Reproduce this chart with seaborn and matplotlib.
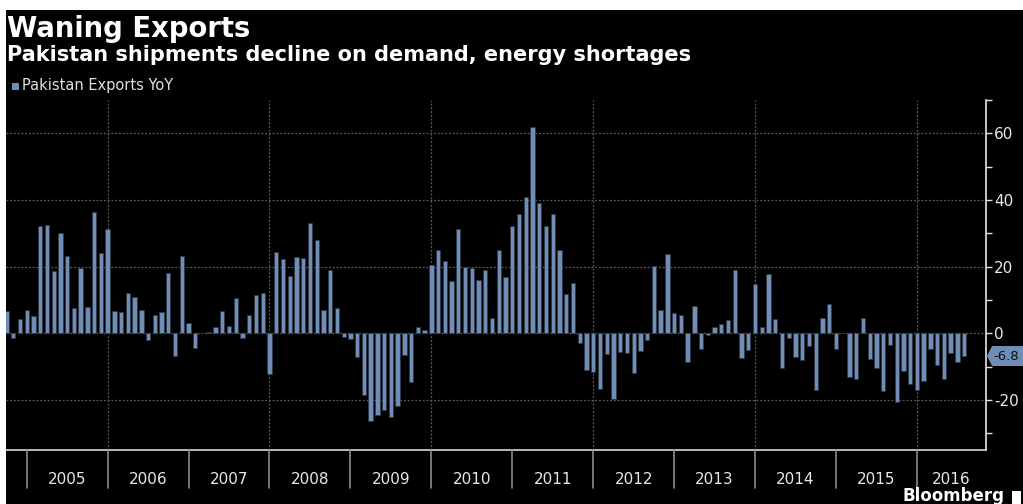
import numpy as np
import pandas as pd
import matplotlib
matplotlib.use("Agg")
import matplotlib.pyplot as plt
import matplotlib.transforms as mtransforms
from matplotlib.patches import Rectangle, Polygon
import seaborn as sns

# ---------------- data ----------------
months = pd.date_range("2004-10-01", periods=143, freq="MS").strftime("%Y-%m").tolist()
exports_yoy = [
    6.6, -1.3, 4.2, 7.1, 5.3, 32.1, 32.5, 18.7, 30.0, 23.3, 7.6, 19.6,
    8.0, 36.5, 24.0, 31.2, 6.6, 6.5, 12.1, 11.0, 7.1, -1.9, 5.6, 6.5,
    18.0, -6.8, 23.3, 3.1, -4.4, 0.2, 0.3, 1.8, 6.6, 2.2, 10.6, -1.5,
    5.5, 11.6, 12.2, -12.1, 24.4, 22.2, 17.1, 22.9, 22.7, 33.0, 28.1, 7.1,
    19.1, 7.7, -1.1, -1.8, -7.0, -18.5, -26.4, -24.6, -22.9, -25.0, -21.7, -6.6,
    -14.5, 2.0, 0.9, 20.5, 24.9, 21.6, 15.6, 31.4, 19.8, 19.5, 15.9, 18.9,
    4.7, 24.9, 16.9, 32.3, 35.7, 40.9, 62.0, 39.0, 32.3, 35.8, 24.9, 11.9,
    15.0, -3.0, -11.1, -11.5, -16.8, -6.2, -19.7, -5.7, -6.0, -11.8, -5.2, -2.0,
    20.1, 7.1, 23.7, 6.2, 5.5, -8.6, 8.2, -4.6, -0.6, 1.8, 2.7, 4.0,
    18.9, -7.4, -5.1, 14.7, 1.8, 17.8, 4.4, -10.5, -1.3, -7.1, -8.1, -3.9,
    -16.9, 4.6, 8.9, -4.6, 0.2, -13.2, -13.8, 4.6, -7.8, -10.5, -17.3, -3.6,
    -20.5, -11.4, -15.1, -17.1, -14.3, -4.6, -9.5, -13.8, -6.0, -8.7, -6.8,
]
years = ["2005", "2006", "2007", "2008", "2009", "2010",
         "2011", "2012", "2013", "2014", "2015", "2016"]
yticks_major = [-20, 0, 20, 40, 60]
yticks_minor = [-30, -10, 10, 30, 50, 70]
last_label = "-6.8"

title = "Waning Exports"
subtitle = "Pakistan shipments decline on demand, energy shortages"
series_name = "Pakistan Exports YoY"

BAR = "#6f8db5"
GRID = "#5c5c5c"

# ---------------- figure ----------------
sns.set_style("dark")
plt.rcParams["font.family"] = ["DejaVu Sans"]

W, H = 1023, 504
fig = plt.figure(figsize=(W / 100, H / 100), dpi=100, facecolor="white")
fig.add_artist(Rectangle((6 / W, 0), 1, (H - 10) / H, transform=fig.transFigure,
                         facecolor="black", edgecolor="none", zorder=0))

ax = fig.add_axes([6 / W, (H - 450) / H, 979.7 / W, 350 / H])
ax.set_facecolor("black")

df = pd.DataFrame({"month": months, "yoy": exports_yoy})
sns.barplot(data=df, x="month", y="yoy", color=BAR, saturation=1, width=0.64,
            edgecolor="#2b3748", linewidth=0.5, errorbar=None, ax=ax, zorder=3)

ax.set_xlim(-0.07, 145.2)
ax.set_ylim(-35, 70)
ax.set_xlabel("")
ax.set_ylabel("")

# y axis on the right
ax.yaxis.tick_right()
ax.set_yticks(yticks_major)
ax.set_yticklabels([str(v) for v in yticks_major])
ax.set_yticks(yticks_minor, minor=True)
ax.tick_params(axis="y", which="both", direction="out", length=4, width=1,
               color="#e0e0e0", labelcolor="#e8e8e8", labelsize=11, pad=2,
               right=True, left=False)
ax.set_xticks([])

for s in ["top", "left"]:
    ax.spines[s].set_visible(False)
ax.spines["right"].set_color("#e6e6e6")
ax.spines["right"].set_linewidth(1.2)
ax.spines["bottom"].set_color("#d8d8d8")
ax.spines["bottom"].set_linewidth(1.2)

# horizontal grid
for v in yticks_major:
    ax.axhline(v, color=GRID, lw=0.9, ls=(0, (1.5, 1.5)), zorder=1)

# year boundaries, labels
starts = [months.index(f"{y}-01") for y in years]
xmax = ax.get_xlim()[1]
trans = mtransforms.blended_transform_factory(ax.transData, ax.transAxes)
for y, b in zip(years, starts):
    if int(y) % 2 == 0:
        ax.axvline(b, color=GRID, lw=0.9, ls=(0, (1.5, 1.5)), zorder=1)
    ax.plot([b, b], [0, -38 / 350], transform=trans, color="#8c8c8c", lw=1.2,
            clip_on=False, zorder=5)
    end = min(b + 12, xmax)
    ax.text((b + end) / 2, -29 / 350, y, transform=trans, ha="center", va="center",
            color="#e8e8e8", fontsize=11)

# last value tag
tag_trans = mtransforms.blended_transform_factory(fig.transFigure, ax.transData)
v = exports_yoy[-1]
tip = 987 / W
body = 992 / W
poly = Polygon([(tip, v), (body, v + 3.0), (1.0, v + 3.0), (1.0, v - 3.0), (body, v - 3.0)],
               closed=True, transform=tag_trans, facecolor=BAR, edgecolor="none",
               clip_on=False, zorder=6)
fig.add_artist(poly)
tag_txt = fig.text(993 / W, 0, last_label, color="#111111", fontsize=9.5,
                   va="center", ha="left", zorder=7)
tag_txt.set_transform(tag_trans)
tag_txt.set_position((993 / W, v))

# titles
fig.text(7 / W, (H - 37) / H, title, color="white", fontsize=19.8, fontweight="bold",
         va="baseline", ha="left")
fig.text(7 / W, (H - 61) / H, subtitle, color="white", fontsize=15, fontweight="bold",
         va="baseline", ha="left")
# legend
fig.add_artist(Rectangle((12 / W, (H - 90) / H), 7 / W, 7 / H, transform=fig.transFigure,
                         facecolor=BAR, edgecolor="none"))
fig.text(22 / W, (H - 90) / H, series_name, color="#e0e0e0", fontsize=10.5,
         va="baseline", ha="left")

# branding
fig.text(903 / W, (H - 487) / H, "Bloomberg", color="white", fontsize=12,
         fontweight="bold", va="top", ha="left")
fig.add_artist(Rectangle((1012 / W, 0), 9 / W, 13 / H, transform=fig.transFigure,
                         facecolor="white", edgecolor="none"))

fig.savefig("out.png", dpi=100, facecolor=fig.get_facecolor())
